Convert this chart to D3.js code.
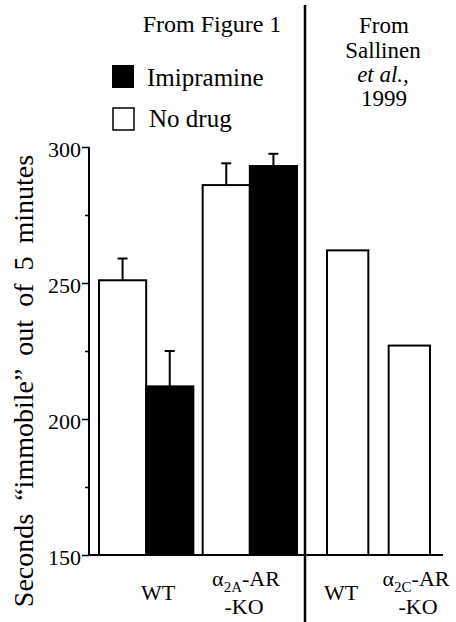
<!DOCTYPE html>
<html>
<head>
<meta charset="utf-8">
<script src="https://cdn.jsdelivr.net/npm/d3@7"></script>
<style>
  body { margin: 0; background: #fff; }
</style>
</head>
<body>
<script>
// values
var groupsFig1 = ["WT", "A2A"];
var noDrug = [251, 286];
var noDrugErr = [259, 294];
var imipramine = [212, 293];
var imipramineErr = [225, 297.5];
var groupsSall = ["WT", "A2C"];
var sallinen = [262, 227];
var yTicks = [150, 200, 250, 300];
var yMinor = [175, 225, 275];

var F = "'Liberation Serif'";
var W = 456, H = 622;
var svg = d3.select(document.body).append("svg")
    .attr("width", W).attr("height", H);

var y = d3.scaleLinear().domain([150, 300]).range([555, 147]);
var xL = d3.scaleBand().domain(groupsFig1).range([99, 297]).paddingInner(0.09);
var xIn = d3.scaleBand().domain(["none", "imi"]).range([0, xL.bandwidth()]);
var xR = d3.scaleBand().domain(groupsSall).range([327, 430]).paddingInner(0.33);

function txt(x, y0, s, size, anchor) {
  return svg.append("text").attr("x", x).attr("y", y0)
      .attr("text-anchor", anchor || "middle")
      .style("font-family", F).style("font-size", size + "px").attr("fill", "#000").text(s);
}

// axis
var ax = svg.append("g").attr("transform", "translate(89,0)")
    .call(d3.axisLeft(y).tickValues(yTicks).tickSize(7).tickPadding(1).tickFormat(d3.format("d")));
ax.select(".domain").attr("stroke-width", 2).attr("d", "M0," + y(300) + "V" + y(150));
ax.selectAll(".tick line").attr("stroke-width", 1.5);
ax.selectAll(".tick text").style("font-size", "22px").style("font-family", F).attr("fill", "#000")
    .attr("dy", "0.45em");
var axm = svg.append("g").attr("transform", "translate(89,0)")
    .call(d3.axisLeft(y).tickValues(yMinor).tickSize(4).tickFormat(""));
axm.select(".domain").remove();
axm.selectAll(".tick line").attr("stroke-width", 1.5);

// baseline
svg.append("line").attr("x1", 88).attr("x2", 443).attr("y1", y(150)).attr("y2", y(150))
    .attr("stroke", "#000").attr("stroke-width", 2);

// divider
svg.append("line").attr("x1", 305).attr("x2", 305).attr("y1", 5).attr("y2", H)
    .attr("stroke", "#000").attr("stroke-width", 2.5);

function errBar(cx, top, val) {
  svg.append("line").attr("x1", cx).attr("x2", cx).attr("y1", y(val)).attr("y2", y(top))
      .attr("stroke", "#000").attr("stroke-width", 2);
  svg.append("line").attr("x1", cx - 5).attr("x2", cx + 5).attr("y1", y(top)).attr("y2", y(top))
      .attr("stroke", "#000").attr("stroke-width", 2);
}

groupsFig1.forEach(function(g, i) {
  var x0 = xL(g);
  errBar(x0 + xIn("none") + xIn.bandwidth() / 2, noDrugErr[i], noDrug[i]);
  errBar(x0 + xIn("imi") + xIn.bandwidth() / 2, imipramineErr[i], imipramine[i]);
  svg.append("rect").attr("x", x0 + xIn("none")).attr("width", xIn.bandwidth())
      .attr("y", y(noDrug[i])).attr("height", y(150) - y(noDrug[i]))
      .attr("fill", "#fff").attr("stroke", "#000").attr("stroke-width", 2);
  svg.append("rect").attr("x", x0 + xIn("imi")).attr("width", xIn.bandwidth())
      .attr("y", y(imipramine[i])).attr("height", y(150) - y(imipramine[i]))
      .attr("fill", "#000").attr("stroke", "#000").attr("stroke-width", 2);
});

groupsSall.forEach(function(g, i) {
  svg.append("rect").attr("x", xR(g)).attr("width", xR.bandwidth())
      .attr("y", y(sallinen[i])).attr("height", y(150) - y(sallinen[i]))
      .attr("fill", "#fff").attr("stroke", "#000").attr("stroke-width", 2);
});

// titles
txt(212, 32, "From Figure 1", 24);
txt(384, 33, "From", 23);
txt(383, 58, "Sallinen", 23);
txt(383, 82, "et al.,", 23).style("font-style", "italic");
txt(384, 106, "1999", 23);

// legend
svg.append("rect").attr("x", 112).attr("y", 65).attr("width", 22).attr("height", 23).attr("fill", "#000");
txt(147, 86, "Imipramine", 25, "start");
svg.append("rect").attr("x", 113).attr("y", 108).attr("width", 21).attr("height", 22)
    .attr("fill", "#fff").attr("stroke", "#000").attr("stroke-width", 1.5);
txt(149, 127, "No drug", 25, "start");

// y label
svg.append("text").attr("transform", "translate(33,381) rotate(-90)").attr("text-anchor", "middle")
    .style("font-family", F).style("font-size", "28px").style("word-spacing", "6px")
    .text("Seconds \u201Cimmobile\u201D out of 5 minutes");

// x labels
function sub(x, y0, s) {
  var t = txt(x, y0, "", 22);
  t.append("tspan").text("\u03B1");
  t.append("tspan").attr("dy", 6).style("font-size", "15px").text(s);
  t.append("tspan").attr("dy", -6).text("-AR");
}
txt(158, 600, "WT", 22);
sub(246, 586, "2A");
txt(244, 614, "-KO", 22);
txt(341, 600, "WT", 22);
sub(416, 586, "2C");
txt(418, 614, "-KO", 22);
</script>
</body>
</html>
